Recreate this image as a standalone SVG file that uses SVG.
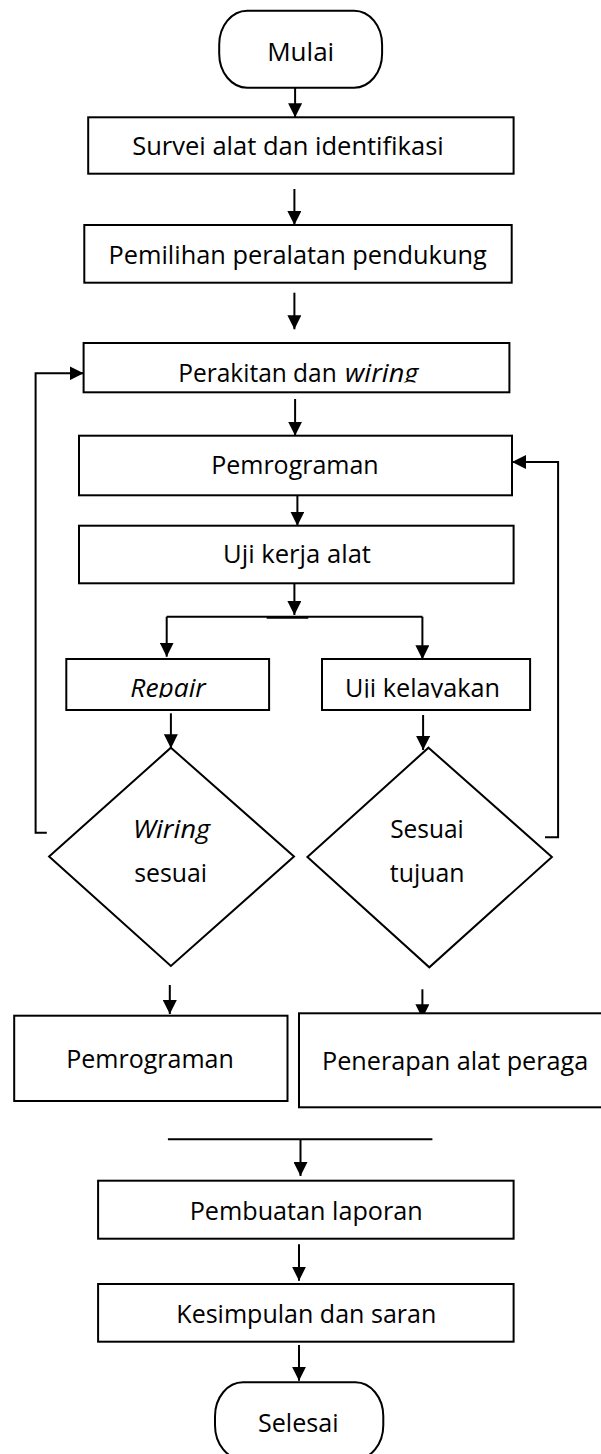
<svg xmlns="http://www.w3.org/2000/svg" width="601" height="1454" viewBox="0 0 601 1454">
<style>
.box{fill:#fff;stroke:#000;stroke-width:2}
.ln{fill:none;stroke:#000;stroke-width:2}
.arr{fill:none;stroke:#000;stroke-width:2;marker-end:url(#ah)}
.t{font-family:"Open Sans","Liberation Sans",sans-serif;font-size:25px;fill:#000}
.i{font-style:italic}
</style>
<defs>
<marker id="ah" markerUnits="userSpaceOnUse" viewBox="0 0 14 14" refX="14" refY="7" markerWidth="14" markerHeight="14" orient="auto">
<path d="M0,0 L14,7 L0,14 z" fill="#000"/>
</marker>
<clipPath id="c1"><rect x="0" y="340" width="601" height="42.5"/></clipPath>
<clipPath id="c2"><rect x="0" y="655" width="601" height="42.8"/></clipPath>
</defs>
<rect width="601" height="1454" fill="#fff"/>
<g id="connectors">
<path class="arr" d="M295.1,87.7 V117.3"/>
<path class="arr" d="M294.4,189 V225"/>
<path class="arr" d="M294.4,292.7 V329.3"/>
<path class="arr" d="M46.8,832.7 H35.6 V373.3 H83.6"/>
<path class="arr" d="M295.1,399 V435.7"/>
<path class="arr" d="M545,837.3 H558.1 V462 H512"/>
<path class="arr" d="M297.4,488 V525.7"/>
<path class="arr" d="M294.4,580 V615"/>
<path class="ln" d="M166.7,616.7 H422.4"/>
<path class="ln" d="M266.7,617.7 H308.3"/>
<path class="arr" d="M166.7,616.7 V656.7"/>
<path class="arr" d="M422.4,616.7 V659.3"/>
<path class="arr" d="M170.9,713.3 V748.3"/>
<path class="arr" d="M423.1,715 V750"/>
<path class="arr" d="M169.8,985 V1014"/>
<path class="arr" d="M422.4,989.3 V1018.3"/>
<path class="ln" d="M167.9,1139.3 H432.4"/>
<path class="arr" d="M300.5,1139.3 V1176"/>
<path class="arr" d="M299,1244.3 V1280.7"/>
<path class="arr" d="M299,1345 V1380.7"/>
</g>
<g id="mulai">
<rect class="box" x="219.2" y="10.7" width="162.9" height="77" rx="28" ry="34"/>
<text class="t" x="267.2" y="61" textLength="67" lengthAdjust="spacingAndGlyphs">Mulai</text>
</g>
<g id="survei">
<rect class="box" x="88.2" y="117.3" width="425.4" height="56.4"/>
<text class="t" x="132.2" y="155" textLength="311.6" lengthAdjust="spacingAndGlyphs">Survei alat dan identifikasi</text>
</g>
<g id="pemilihan">
<rect class="box" x="84.3" y="225" width="427.4" height="57.7"/>
<text class="t" x="108.5" y="264.3" textLength="378.3" lengthAdjust="spacingAndGlyphs">Pemilihan peralatan pendukung</text>
</g>
<g id="perakitan">
<rect class="box" x="83.6" y="343" width="425.8" height="49.3"/>
<g clip-path="url(#c1)">
<text class="t" x="178.3" y="381.7" textLength="158.4" lengthAdjust="spacingAndGlyphs">Perakitan dan</text>
<text class="t i" x="345" y="381.7" textLength="73.3" lengthAdjust="spacingAndGlyphs">wiring</text>
</g>
</g>
<g id="pemrograman1">
<rect class="box" x="79" y="435.7" width="433" height="59.6"/>
<text class="t" x="211.2" y="474.3" textLength="167.5" lengthAdjust="spacingAndGlyphs">Pemrograman</text>
</g>
<g id="ujikerja">
<rect class="box" x="79" y="525.7" width="434.6" height="57.6"/>
<text class="t" x="223" y="563.3" textLength="148" lengthAdjust="spacingAndGlyphs">Uji kerja alat</text>
</g>
<g id="repair">
<rect class="box" x="66.3" y="659" width="202.8" height="51"/>
<g clip-path="url(#c2)">
<text class="t i" x="130.3" y="697" textLength="75.5" lengthAdjust="spacingAndGlyphs">Repair</text>
</g>
</g>
<g id="ujikelayakan">
<rect class="box" x="322" y="659" width="208.1" height="51"/>
<g clip-path="url(#c2)">
<text class="t" x="345" y="697" textLength="155" lengthAdjust="spacingAndGlyphs">Uji kelayakan</text>
</g>
</g>
<g id="wiringsesuai">
<polygon class="box" points="170.9,747.7 294,856.5 170.9,966 49.1,856.5"/>
<text class="t i" x="133" y="838.3" textLength="77" lengthAdjust="spacingAndGlyphs">Wiring</text>
<text class="t" x="134.2" y="881.7" textLength="72.8" lengthAdjust="spacingAndGlyphs">sesuai</text>
</g>
<g id="sesuaitujuan">
<polygon class="box" points="428.5,747.7 551.9,857 429.3,967.3 307.4,857"/>
<text class="t" x="390.2" y="838" textLength="73.6" lengthAdjust="spacingAndGlyphs">Sesuai</text>
<text class="t" x="389.8" y="881.7" textLength="74.7" lengthAdjust="spacingAndGlyphs">tujuan</text>
</g>
<g id="pemrograman2">
<rect class="box" x="14.2" y="1015.7" width="273.3" height="85.3"/>
<text class="t" x="66.3" y="1067.7" textLength="167.5" lengthAdjust="spacingAndGlyphs">Pemrograman</text>
</g>
<g id="penerapan">
<rect class="box" x="299" y="1013.3" width="320" height="94"/>
<text class="t" x="322" y="1070" textLength="266.3" lengthAdjust="spacingAndGlyphs">Penerapan alat peraga</text>
</g>
<g id="pembuatan">
<rect class="box" x="98.1" y="1180.7" width="415.5" height="58"/>
<text class="t" x="189.7" y="1220" textLength="233" lengthAdjust="spacingAndGlyphs">Pembuatan laporan</text>
</g>
<g id="kesimpulan">
<rect class="box" x="98.1" y="1284" width="415.5" height="57.7"/>
<text class="t" x="176.3" y="1322.7" textLength="260" lengthAdjust="spacingAndGlyphs">Kesimpulan dan saran</text>
</g>
<g id="selesai">
<rect class="box" x="215" y="1382.3" width="168.3" height="77" rx="28" ry="34"/>
<text class="t" x="258" y="1431.7" textLength="80.5" lengthAdjust="spacingAndGlyphs">Selesai</text>
</g>
</svg>
